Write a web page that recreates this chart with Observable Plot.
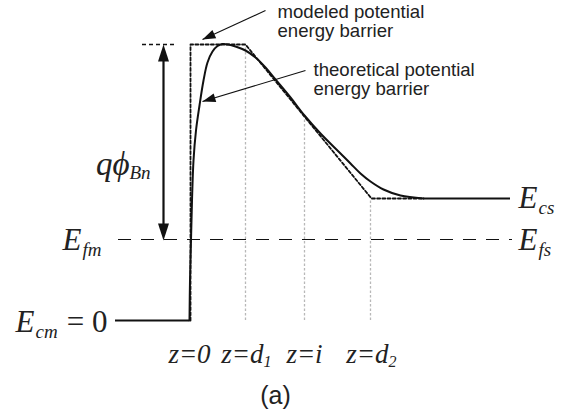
<!DOCTYPE html>
<html><head><meta charset="utf-8">
<script src="https://cdn.jsdelivr.net/npm/d3@7"></script>
<script src="https://cdn.jsdelivr.net/npm/@observablehq/plot@0.6"></script>
<style>body{margin:0;background:#fff}</style>
</head><body><div id="chart"></div>
<script>
// ---- data (z: position, E: energy, arbitrary units) ----
const E_cm = 0;      // metal conduction band
const E_f = 81;      // Fermi level
const E_cs = 122;    // semiconductor conduction band
const E_top = 276;   // barrier height q*phi_Bn
const zStart = -74;  // left end of metal band
const zEnd = 321;    // right end of semiconductor band

// theoretical potential energy barrier (solid curve)
const theoZ = [0, 0.5, 1.5, 2.5, 4, 6.5, 10, 14, 18, 23, 28, 33, 39, 46, 56, 66, 76, 86, 101, 115, 131, 151, 161, 171, 181, 194, 211, 234];
const theoE = [0, 40, 80, 120, 160, 190, 215, 240, 258, 269, 274.5, 276.5, 276, 274, 270, 263, 253, 241, 223, 205, 187, 167, 157, 147, 139, 131, 125, 122];

// modeled potential energy barrier (dotted)
const modZ = [1, 1, 56, 182, 234];
const modE = [0, 276, 276, 122, 122];

// tick positions along z
const zTicks = [0, 56, 115, 181];
const zTickMain = ["z=0", "z=d", "z=i", "z=d"];
const zTickSub = ["", "1", "", "2"];
const zGuideTop = [null, 276, 205, 122];

// annotation arrows (from text to curve) and text anchors
const annFromZ = [76, 116];
const annFromE = [310, 250];
const annToZ = [13, 13];
const annToE = [281, 219];
const annTextZ = [88, 124];
const annTextE = [303, 245];
const annText1 = ["modeled potential", "theoretical potential"];
const annText2 = ["energy barrier", "energy barrier"];

// q*phi arrow
const phiArrowZ = -26;
const phiArrowTop = 274;
const phiArrowBottom = 82;

// ---- build tables ----
const theo = theoZ.map((z, i) => ({z, E: theoE[i]}));
const modeled = modZ.map((z, i) => ({z, E: modE[i]}));
const ticks = zTicks.map((z, i) => ({z, main: zTickMain[i], sub: zTickSub[i], top: zGuideTop[i]}));
const ann = annFromZ.map((z, i) => ({z1: z, E1: annFromE[i], z2: annToZ[i], E2: annToE[i], tz: annTextZ[i], tE: annTextE[i], t1: annText1[i], t2: annText2[i]}));

const serif = "Liberation Serif, 'Times New Roman', serif";
const sans = "Liberation Sans, Arial, Helvetica, sans-serif";

// arrowhead symbol: tip at origin, pointing up
function headSymbol(len, half) {
  return {draw(ctx) { ctx.moveTo(0, 0); ctx.lineTo(-half, len); ctx.lineTo(half, len); ctx.closePath(); }};
}
const angle = (dz, dE) => Math.atan2(dz, dE) * 180 / Math.PI; // scales are 1:1

const heads = ann.map(d => ({z: d.z2, E: d.E2, r: angle(d.z2 - d.z1, d.E2 - d.E1)}));
const phiHeads = [{z: phiArrowZ, E: phiArrowTop + 2, r: 0}, {z: phiArrowZ, E: phiArrowBottom - 2, r: 180}];

const big = {fontFamily: serif, fontStyle: "italic", fontSize: 31, fill: "#222", textAnchor: "start", lineAnchor: "bottom"};
const small = {fontFamily: serif, fontStyle: "italic", fontSize: 19, fill: "#222", textAnchor: "start", lineAnchor: "bottom"};
const tickFont = {fontFamily: serif, fontStyle: "italic", fontSize: 27, fill: "#222", lineAnchor: "bottom"};
const annFont = {fontFamily: sans, fontSize: 18.6, fill: "#222", textAnchor: "start", lineAnchor: "bottom"};

const chart = Plot.plot({
  width: 569, height: 418,
  margin: 0,
  x: {domain: [-189, 380], range: [0, 569], axis: null},
  y: {domain: [-98, 320], range: [418, 0], axis: null},
  style: {background: "white"},
  marks: [
    // gray guides
    Plot.ruleX(ticks.filter(d => d.top != null), {x: "z", y1: 0, y2: "top", stroke: "#b8b8b8", strokeWidth: 1.3, strokeDasharray: "2.5,2"}),
    // Fermi level dashed
    Plot.ruleY([E_f], {x1: -71, x2: 323, stroke: "#111", strokeWidth: 1.1, strokeDasharray: "13,10"}),
    // top reference dotted
    Plot.ruleY([E_top], {x1: -47, x2: -12, stroke: "#111", strokeWidth: 1.4, strokeDasharray: "4,3"}),
    // modeled barrier
    Plot.line(modeled, {x: "z", y: "E", stroke: "#111", strokeWidth: 1.8, strokeDasharray: "3,2.2"}),
    // theoretical barrier
    Plot.line(theo, {x: "z", y: "E", curve: "catmull-rom", stroke: "#111", strokeWidth: 2}),
    Plot.ruleY([E_cs], {x1: 234, x2: zEnd, stroke: "#111", strokeWidth: 2.2}),
    Plot.ruleY([E_cm], {x1: zStart, x2: 0, stroke: "#111", strokeWidth: 2.2}),
    // q phi arrow
    Plot.ruleX([phiArrowZ], {y1: phiArrowBottom + 10, y2: phiArrowTop - 10, stroke: "#111", strokeWidth: 2.2}),
    Plot.dot(phiHeads, {x: "z", y: "E", rotate: "r", symbol: headSymbol(17, 5.5), fill: "#111", stroke: "none"}),
    // annotation arrows
    Plot.link(ann, {x1: "z1", y1: "E1", x2: "z2", y2: "E2", stroke: "#111", strokeWidth: 1.1}),
    Plot.dot(heads, {x: "z", y: "E", rotate: "r", symbol: headSymbol(13, 4.5), fill: "#111", stroke: "none"}),
    Plot.text(ann, {x: "tz", y: "tE", text: "t1", ...annFont, dy: 0}),
    Plot.text(ann, {x: "tz", y: "tE", text: "t2", ...annFont, dy: 19}),
    // z tick labels
    Plot.text(ticks.filter(d => !d.sub), {x: "z", y: E_cm, text: "main", textAnchor: "middle", dy: 42, ...tickFont}),
    Plot.text(ticks.filter(d => d.sub), {x: "z", y: E_cm, text: "main", textAnchor: "end", dx: 18, dy: 42, ...tickFont}),
    Plot.text(ticks.filter(d => d.sub), {x: "z", y: E_cm, text: "sub", textAnchor: "start", dx: 18, dy: 46, ...tickFont, fontSize: 16}),
    // q phi_Bn
    Plot.text([E_top], {x: phiArrowZ, y: d => d, text: ["qϕ"], ...big, textAnchor: "end", fontSize: 33, dx: -34, dy: 130}),
    Plot.text([E_top], {x: phiArrowZ, y: d => d, text: ["Bn"], ...small, dx: -34, dy: 134}),
    // E_fm
    Plot.text([E_f], {x: zStart, y: d => d, text: ["E"], ...big, dx: -53, dy: 10}),
    Plot.text([E_f], {x: zStart, y: d => d, text: ["fm"], ...small, dx: -33, dy: 16}),
    // E_cm = 0
    Plot.text([E_cm], {x: zStart, y: d => d, text: ["E"], ...big, dx: -100, dy: 11}),
    Plot.text([E_cm], {x: zStart, y: d => d, text: ["cm"], ...small, dx: -80, dy: 17}),
    Plot.text([E_cm], {x: zStart, y: d => d, text: ["= 0"], ...big, fontStyle: "normal", textAnchor: "end", dx: -8, dy: 11}),
    // E_cs and E_fs
    Plot.text([E_cs], {x: zEnd, y: d => d, text: ["E"], ...big, dx: 8, dy: 9}),
    Plot.text([E_cs], {x: zEnd, y: d => d, text: ["cs"], ...small, dx: 28, dy: 15}),
    Plot.text([E_f], {x: zEnd, y: d => d, text: ["E"], ...big, dx: 8, dy: 10}),
    Plot.text([E_f], {x: zEnd, y: d => d, text: ["fs"], ...small, dx: 28, dy: 16}),
    // caption (a)
    Plot.text([86], {x: d => d, y: E_cm, text: ["(a)"], textAnchor: "middle", lineAnchor: "bottom", dy: 83, fontFamily: sans, fontSize: 25, fill: "#222"})
  ]
});
document.getElementById("chart").append(chart);
</script></body></html>
